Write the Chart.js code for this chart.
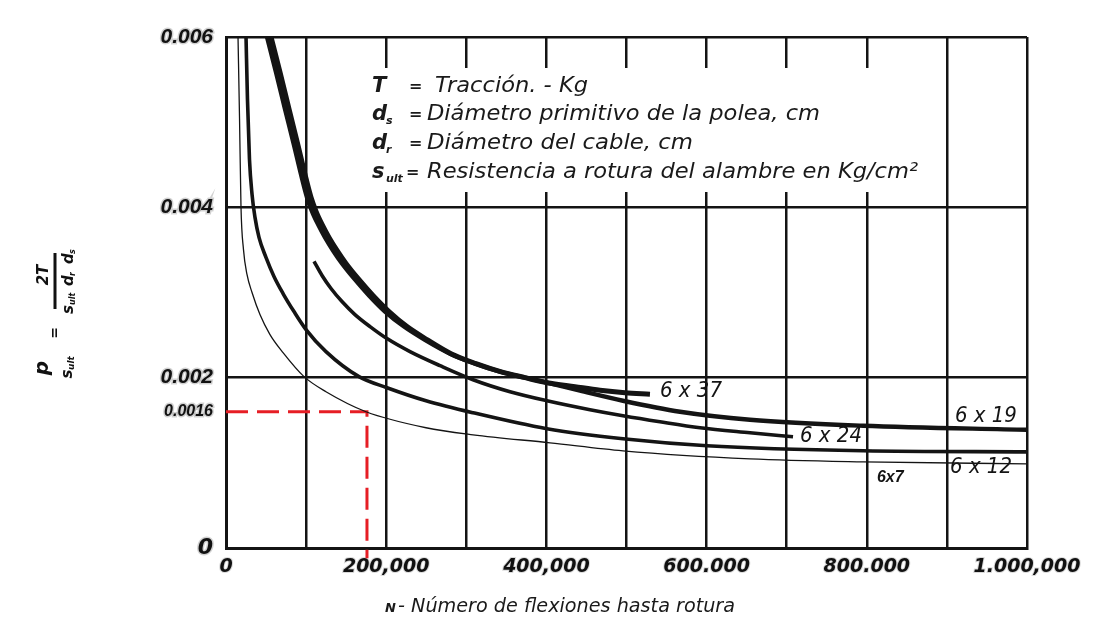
<!DOCTYPE html>
<html>
<head>
<meta charset="utf-8">
<script src="https://cdn.jsdelivr.net/npm/chart.js@4/dist/chart.umd.min.js"></script>
<style>
  html, body { margin: 0; padding: 0; background: #fff; }
  #wrap { width: 1112px; height: 623px; }
</style>
</head>
<body>
<div id="wrap"><canvas id="c" width="1112" height="623"></canvas></div>
<script>
// Número de flexiones hasta rotura (N) y presión relativa p/s_ult, por tipo de cable
const n6x37 = [56200, 67400, 78700, 89900, 98600, 106100, 112400, 119900, 128600, 138600, 149800, 164800, 183500, 203500, 226000, 250900, 280900, 312100, 342700, 373300, 400700, 435700, 466900, 498100, 529300];
const p6x37 = [0.00600, 0.005588, 0.005153, 0.004729, 0.004388, 0.004118, 0.003953, 0.00380, 0.003647, 0.003494, 0.003341, 0.003165, 0.002965, 0.002776, 0.00260, 0.002447, 0.002282, 0.002165, 0.002071, 0.00200, 0.001941, 0.001894, 0.001853, 0.001824, 0.001806];

const n6x19 = [51200, 62400, 73700, 84900, 93600, 101100, 107400, 114900, 123600, 133600, 144800, 159800, 178500, 198500, 222200, 247800, 279700, 310900, 342100, 373300, 400700, 441900, 495600, 566800, 654200, 795300, 1000000];
const p6x19 = [0.00600, 0.005588, 0.005153, 0.004729, 0.004388, 0.004118, 0.003953, 0.00380, 0.003647, 0.003494, 0.003341, 0.003165, 0.002965, 0.002776, 0.00260, 0.002447, 0.002282, 0.002165, 0.002071, 0.00200, 0.001941, 0.001847, 0.001729, 0.00160, 0.001506, 0.001435, 0.001388];

const n6x24 = [109900, 119900, 131100, 144800, 161000, 179800, 201000, 229700, 267200, 308400, 354600, 400700, 454400, 495600, 541800, 591800, 654200, 707900];
const p6x24 = [0.003365, 0.00320, 0.003047, 0.002894, 0.002741, 0.00260, 0.002459, 0.002306, 0.002141, 0.001976, 0.001835, 0.001729, 0.001624, 0.001553, 0.001482, 0.001412, 0.001353, 0.001306];

const n6x12 = [25000, 26800, 29300, 32500, 36200, 41200, 49900, 59900, 71200, 84900, 99900, 124800, 166000, 201000, 249700, 308400, 400700, 495600, 600500, 795300, 1000000];
const p6x12 = [0.00600, 0.005271, 0.004565, 0.004153, 0.003882, 0.003647, 0.003412, 0.003188, 0.002988, 0.002776, 0.002565, 0.002306, 0.002012, 0.001882, 0.001729, 0.001588, 0.00140, 0.001282, 0.00120, 0.001141, 0.001129];

const n6x7 = [15000, 16900, 18700, 21800, 26200, 32500, 42400, 54900, 71200, 97400, 124800, 174800, 249700, 308400, 404500, 495600, 654200, 795300, 1000000];
const p6x7 = [0.00600, 0.00504, 0.00401, 0.003506, 0.003212, 0.00300, 0.002741, 0.002506, 0.002294, 0.002012, 0.001835, 0.00160, 0.001412, 0.001329, 0.001235, 0.001141, 0.001047, 0.001012, 0.000988];

// Punto de lectura marcado en rojo
const refN = 176000;
const refP = 0.0016;

// Rótulos de las curvas (posición en unidades de los ejes)
const curveNames = ['6 x 37', '6 x 19', '6 x 24', '6 x 12', '6x7'];
const labelN = [541800, 910000, 716600, 903900, 812700];
const labelP = [0.001835, 0.00155, 0.001306, 0.000953, 0.000824];

// Marcas de los ejes
const xTickValues = [0, 200000, 400000, 600000, 800000, 1000000];
const xTickLabels = ['0', '200,000', '400,000', '600.000', '800.000', '1.000,000'];
const yTickValues = [0, 0.0016, 0.002, 0.004, 0.006];
const yTickLabels = ['0', '0.0016', '0.002', '0.004', '0.006'];

const INK = '#141414';
const FUT = '"DejaVu Sans"';

function series(ns, ps) {
  return ns.map((n, i) => ({ x: n, y: ps[i] }));
}

function curve(ns, ps, width) {
  return {
    data: series(ns, ps),
    borderColor: INK,
    borderWidth: width,
    cubicInterpolationMode: 'monotone',
    pointRadius: 0,
    fill: false,
    borderCapStyle: 'butt',
    borderJoinStyle: 'round'
  };
}

// Ajusta un texto a un ancho dado
function fitText(ctx, text, x, y, w) {
  const m = ctx.measureText(text).width;
  ctx.save();
  ctx.translate(x, y);
  ctx.scale(w / m, 1);
  ctx.fillText(text, 0, 0);
  ctx.restore();
}

// Cuadro de símbolos, rótulos de curvas y títulos de los ejes
const annotations = {
  id: 'annotations',
  afterDraw(chart) {
    const ctx = chart.ctx;
    const xs = chart.scales.x, ys = chart.scales.y;
    ctx.save();

    // Rótulos de las curvas
    ctx.fillStyle = INK;
    ctx.textBaseline = 'middle';
    ctx.textAlign = 'left';
    curveNames.forEach((name, i) => {
      const px = xs.getPixelForValue(labelN[i]);
      const py = ys.getPixelForValue(labelP[i]);
      if (name === '6x7') {
        ctx.font = 'italic bold 16px "Liberation Sans"';
        ctx.fillText(name, px, py);
      } else {
        ctx.font = 'italic 22px ' + FUT;
        fitText(ctx, name, px, py, 62);
      }
    });

    // Cuadro con la definición de los símbolos
    ctx.fillStyle = '#fff';
    ctx.fillRect(360, 68, 566, 124);
    ctx.fillStyle = '#1a1a1a';
    ctx.textBaseline = 'alphabetic';
    const rows = [
      { sym: 'T', sub: '', text: 'Tracción. - Kg', tx: 435, w: 153, by: 92 },
      { sym: 'd', sub: 's', text: 'Diámetro primitivo de la polea, cm', tx: 427, w: 393, by: 120 },
      { sym: 'd', sub: 'r', text: 'Diámetro del cable, cm', tx: 427, w: 266, by: 149 },
      { sym: 's', sub: 'ult', text: 'Resistencia a rotura del alambre en Kg/cm²', tx: 427, w: 491, by: 178 }
    ];
    rows.forEach(r => {
      ctx.font = 'italic bold 21px ' + FUT;
      ctx.fillText(r.sym, 372, r.by);
      if (r.sub) {
        ctx.font = 'italic bold 11px ' + FUT;
        ctx.fillText(r.sub, 386, r.by + 4);
      }
      ctx.font = 'bold 16px ' + FUT;
      ctx.fillText('=', r.sub === 'ult' ? 406 : 409, r.by - 1);
      ctx.font = 'italic 22px ' + FUT;
      fitText(ctx, r.text, r.tx, r.by, r.w);
    });

    // Título del eje X
    ctx.fillStyle = '#1a1a1a';
    ctx.font = 'italic bold 13px ' + FUT;
    ctx.fillText('N', 385, 612);
    ctx.font = 'italic 19px ' + FUT;
    fitText(ctx, '- Número de flexiones hasta rotura', 398, 612, 337);

    // Título del eje Y:  p / s_ult = 2T / (s_ult d_r d_s)
    ctx.translate(55, 320);
    ctx.rotate(-Math.PI / 2);
    ctx.textAlign = 'center';
    ctx.textBaseline = 'middle';
    ctx.fillStyle = '#111';
    // p / s_ult
    ctx.font = 'italic bold 20px ' + FUT;
    ctx.fillText('p', -48, -12);
    ctx.font = 'italic bold 15px ' + FUT;
    ctx.fillText('s', -54, 13);
    ctx.font = 'italic bold 9px ' + FUT;
    ctx.fillText('ult', -43, 17);
    // =
    ctx.font = 'bold 14px ' + FUT;
    ctx.fillText('=', -13, 0);
    // 2T / s_ult d_r d_s
    ctx.font = 'italic bold 15px ' + FUT;
    ctx.fillText('2T', 45, -11);
    ctx.fillRect(11, -1.5, 56, 3);
    ctx.textAlign = 'left';
    ctx.fillText('s', 6, 14);
    ctx.fillText('d', 34, 14);
    ctx.fillText('d', 56, 14);
    ctx.font = 'italic bold 8px ' + FUT;
    ctx.fillText('ult', 15, 18);
    ctx.fillText('r', 44, 18);
    ctx.fillText('s', 66, 18);

    ctx.restore();
  }
};

new Chart(document.getElementById('c'), {
  type: 'line',
  data: {
    datasets: [
      curve(n6x7, p6x7, 1.3),
      curve(n6x12, p6x12, 3.6),
      curve(n6x24, p6x24, 3.6),
      curve(n6x19, p6x19, 4.4),
      curve(n6x37, p6x37, 5),
      {
        data: [{ x: 0, y: refP }, { x: refN, y: refP }, { x: refN, y: -0.00012 }],
        borderColor: '#e61e25',
        borderWidth: 3,
        borderDash: [22, 9],
        pointRadius: 0,
        tension: 0,
        fill: false,
        clip: false
      }
    ]
  },
  options: {
    responsive: false,
    animation: false,
    layout: { padding: { left: 0, right: 85, top: 37, bottom: 0 } },
    plugins: { legend: { display: false }, tooltip: { enabled: false } },
    scales: {
      x: {
        type: 'linear',
        min: 0,
        max: 1000000,
        afterBuildTicks: s => {
          const t = [];
          for (let v = 0; v <= 1000000; v += 100000) t.push({ value: v });
          s.ticks = t;
        },
        ticks: {
          autoSkip: false,
          maxRotation: 0,
          padding: 8,
          color: '#111',
          textStrokeColor: 'rgba(0,0,0,0.15)',
          textStrokeWidth: 2,
          font: { family: 'DejaVu Sans', size: 19, style: 'italic', weight: 'bold' },
          callback: v => {
            const i = xTickValues.indexOf(v);
            return i < 0 ? '' : xTickLabels[i];
          }
        },
        grid: { color: INK, lineWidth: 2.5, drawTicks: false },
        border: { color: INK, width: 3 },
        afterFit: s => { s.height = 75; }
      },
      y: {
        type: 'linear',
        min: 0,
        max: 0.006,
        afterBuildTicks: s => { s.ticks = yTickValues.map(v => ({ value: v })); },
        ticks: {
          autoSkip: false,
          padding: 13,
          color: '#111',
          textStrokeColor: 'rgba(0,0,0,0.18)',
          textStrokeWidth: 3,
          font: c => {
            const v = c.tick ? c.tick.value : null;
            if (v === 0) return { family: 'DejaVu Sans', size: 22, style: 'italic', weight: 'bold' };
            if (v === 0.0016) return { family: 'Liberation Sans', size: 16, style: 'italic', weight: 'bold' };
            return { family: 'Liberation Sans', size: 21, style: 'italic', weight: 'bold' };
          },
          callback: v => {
            const i = yTickValues.indexOf(v);
            return i < 0 ? '' : yTickLabels[i];
          }
        },
        grid: {
          color: c => (c.tick && c.tick.value === 0.0016) ? 'rgba(0,0,0,0)' : INK,
          lineWidth: 2.5,
          drawTicks: false
        },
        border: { color: INK, width: 3 },
        afterFit: s => { s.width = 226; }
      }
    }
  },
  plugins: [annotations]
});
</script>
</body>
</html>
